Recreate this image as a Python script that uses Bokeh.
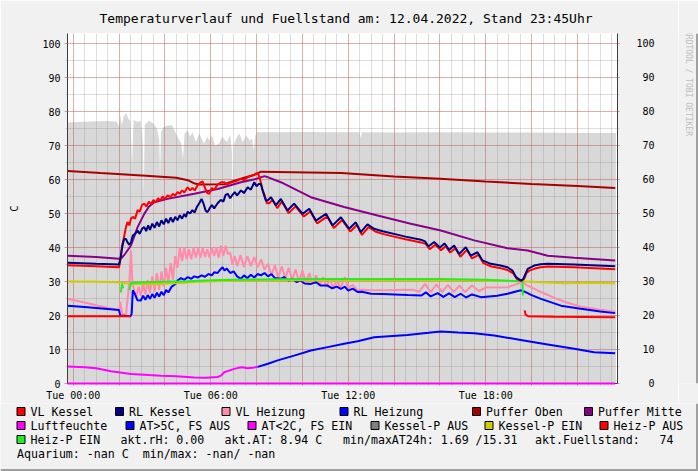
import math
from bokeh.plotting import figure
from bokeh.layouts import column, row
from bokeh.models import Range1d, LinearAxis, FixedTicker, Grid
from bokeh.core.properties import value
from bokeh.embed import file_html
from bokeh.resources import INLINE

NaN = float("nan")

TITLE = "Temperaturverlauf und Fuellstand am: 12.04.2022, Stand 23:45Uhr"
Y_LABEL = "C"
WATERMARK = "RRDTOOL / TOBI OETIKER"
X_LABEL_TICKS = [0, 6, 12, 18]
X_LABELS = ["Tue 00:00", "Tue 06:00", "Tue 12:00", "Tue 18:00"]
Y_TICKS = [0, 10, 20, 30, 40, 50, 60, 70, 80, 90, 100]

# ---- data (hours since 00:00, values) ----
fuell_t = [-0.25, 0.5, 1.0, 1.5, 1.9, 2.0, 2.05, 2.12, 2.2, 2.3, 2.4, 2.5, 2.57, 2.63, 2.8, 2.95, 3.04, 3.08, 3.12,
           3.3, 3.5, 3.65, 3.75, 3.79, 3.83, 3.95, 4.1, 4.3, 4.45, 4.6, 4.72, 4.79, 4.86, 5.0, 5.1, 5.2, 5.35,
           5.5, 5.7, 5.85, 5.95, 6.05, 6.2, 6.35, 6.5, 6.7, 6.85, 6.93, 6.96, 7.0, 7.1, 7.25, 7.4, 7.55, 7.7,
           7.8, 7.88, 7.95, 8.0, 9.0, 10.0, 11.0, 12.5, 12.55, 12.6, 14.0, 16.0, 18.0, 20.0, 22.0, 23.68]
fuell_v = [76.8, 77.0, 77.1, 77.2, 77.0, 75.5, 79.0, 76.0, 78.5, 79.5, 78.0, 77.0, 64.0, 77.5, 77.0, 77.2, 70.0, 55.3, 76.0,
           77.3, 76.5, 75.0, 72.0, 60.7, 74.0, 75.5, 75.8, 76.0, 74.0, 72.0, 70.5, 66.0, 73.5, 74.5, 72.5, 74.0, 71.0,
           73.5, 70.5, 72.5, 71.5, 73.0, 70.0, 70.5, 72.5, 71.0, 73.0, 68.0, 46.5, 70.0, 72.0, 73.5, 71.0, 73.0, 71.5,
           72.0, 68.5, 73.0, 73.9, 73.9, 74.0, 73.9, 73.9, 72.0, 73.9, 73.8, 73.9, 73.8, 73.8, 73.7, 73.7]

vl_kessel_t = [-0.25, 1.0, 2.0, 2.05, 2.12, 2.2, 2.3, 2.37, 2.45, 2.52, 2.6, 2.7, 2.81, 2.9, 3.0, 3.1, 3.2, 3.3, 3.4,
               3.5, 3.6, 3.7, 3.8, 3.9, 4.0, 4.12, 4.25, 4.35, 4.45, 4.55, 4.65, 4.75, 4.85, 4.99, 5.1, 5.2, 5.3,
               5.45, 5.57, 5.65, 5.75, 5.85, 5.93, 6.05, 6.15, 6.3, 6.45, 6.59, 6.7, 6.85, 7.0, 7.17, 7.3, 7.45,
               7.61, 7.75, 7.9, 8.0, 8.08, 8.15, 8.25, 8.33, 8.45, 8.55, 8.7, 8.9, 9.1, 9.4, 9.7, 10.06, 10.35,
               10.64, 11.08, 11.37, 11.73, 12.09, 12.38, 12.6, 12.89, 13.18, 13.5, 14.0, 14.5, 15.17, 15.4, 15.55,
               15.8, 16.05, 16.25, 16.45, 16.67, 16.89, 17.18, 17.4, 17.69, 17.9, 18.25, 18.6, 18.95, 19.2, 19.35,
               19.55, 19.68, 19.78, 19.9, 20.15, 20.4, 20.7, 21.86, 23.65]
vl_kessel_v = [34.8, 34.5, 34.2, 36.0, 40.0, 42.5, 46.0, 47.5, 46.5, 48.5, 49.0, 48.5, 51.0, 50.5, 52.5, 52.9, 52.0, 53.5, 52.8,
               54.0, 53.2, 54.5, 53.8, 55.0, 54.3, 55.3, 54.8, 55.8, 55.2, 56.3, 55.8, 56.8, 56.2, 57.7, 56.8, 57.5, 56.8,
               58.5, 59.2, 59.4, 57.5, 56.0, 55.8, 57.5, 57.0, 58.5, 59.2, 59.2, 58.5, 59.0, 59.3, 59.7, 60.2, 59.8,
               60.7, 61.0, 61.3, 61.9, 61.5, 60.2, 57.0, 55.8, 53.0, 53.0, 54.0, 51.6, 53.5, 50.1, 52.1, 49.1, 50.6,
               47.1, 49.1, 45.7, 48.1, 44.7, 46.6, 43.7, 46.0, 44.7, 44.0, 43.2, 42.4, 41.5, 41.0, 39.5,
               40.8, 39.2, 40.4, 38.5, 39.8, 37.3, 39.3, 36.8, 37.8, 35.4, 34.4, 34.0, 33.4, 32.4, 30.8,
               30.2, 30.8, 32.5, 33.2, 33.8, 34.2, 34.4, 34.2, 33.6]

rl_kessel_t = [-0.25, 1.0, 2.0, 2.08, 2.15, 2.22, 2.3, 2.37, 2.45, 2.52, 2.6, 2.7, 2.81, 2.9, 3.0, 3.1, 3.18, 3.27, 3.35,
               3.45, 3.55, 3.65, 3.75, 3.85, 3.95, 4.05, 4.15, 4.25, 4.35, 4.45, 4.55, 4.65, 4.75, 4.84, 4.92, 4.99,
               5.1, 5.2, 5.3, 5.4, 5.5, 5.6, 5.68, 5.78, 5.86, 5.95, 6.05, 6.15, 6.3, 6.44, 6.55, 6.65, 6.74, 6.85,
               6.95, 7.05, 7.15, 7.32, 7.45, 7.61, 7.75, 7.9, 8.0, 8.1, 8.19, 8.3, 8.41, 8.48, 8.63, 8.84, 9.06,
               9.35, 9.64, 10.01, 10.3, 10.59, 11.03, 11.32, 11.68, 12.04, 12.33, 12.55, 12.84, 13.13, 13.5, 14.0,
               14.5, 15.17, 15.35, 15.5, 15.75, 16.0, 16.2, 16.4, 16.62, 16.84, 17.13, 17.35, 17.64, 17.86, 18.22,
               18.6, 18.95, 19.17, 19.32, 19.53, 19.63, 19.72, 19.83, 20.11, 20.4, 20.7, 21.86, 23.65]
rl_kessel_v = [35.5, 35.2, 35.0, 37.5, 40.6, 42.5, 42.5, 41.5, 40.8, 41.5, 43.5, 44.0, 45.0, 44.0, 45.5, 46.0, 44.8, 46.5, 45.2,
               47.0, 45.8, 47.5, 46.2, 48.0, 46.8, 48.5, 47.2, 48.8, 47.5, 49.0, 48.0, 49.5, 48.5, 49.8, 49.0, 50.5,
               50.0, 51.0, 50.3, 52.0, 53.0, 54.3, 53.0, 50.8, 50.4, 51.5, 52.5, 51.5, 53.0, 54.0, 53.5, 55.5, 55.8, 54.5,
               55.5, 56.3, 55.3, 56.8, 56.0, 57.7, 57.0, 59.2, 58.0, 58.7, 58.7, 56.0, 53.8, 53.8, 54.8, 52.4, 54.3,
               50.9, 52.9, 49.9, 51.4, 47.9, 49.9, 46.5, 48.9, 45.5, 47.4, 44.5, 46.8, 45.5, 44.8, 44.0,
               43.2, 42.3, 41.8, 40.3, 41.6, 40.0, 41.2, 39.3, 40.6, 38.1, 40.1, 37.6, 38.6, 36.2, 35.2,
               34.8, 34.2, 33.2, 31.3, 30.3, 30.6, 32.0, 33.7, 34.7, 35.1, 35.2, 35.0, 34.5]

vl_heizung_t = [-0.25, 0.5, 1.0, 1.5, 1.95, 2.0, 2.05, 2.1, 2.15, 2.3, 2.45, 2.52, 2.58, 2.66, 2.75, 2.85, 2.95, 3.05,
                3.15, 3.25, 3.35, 3.45, 3.55, 3.65, 3.75, 3.85, 3.95, 4.05, 4.15, 4.25, 4.35, 4.45, 4.55, 4.65,
                4.75, 4.85, 4.95, 5.05, 5.15, 5.25, 5.35, 5.45, 5.55, 5.65, 5.75, 5.85, 5.95, 6.05, 6.15, 6.25,
                6.35, 6.45, 6.55, 6.65, 6.75, 6.85, 6.95, 7.05, 7.15, 7.3, 7.45, 7.6, 7.75, 7.9, 8.05, 8.2, 8.35,
                8.5, 8.65, 8.8, 8.95, 9.1, 9.25, 9.4, 9.55, 9.7, 9.85, 10.0, 10.15, 10.3, 10.45, 10.6, 10.75, 10.9,
                11.05, 11.2, 11.35, 11.5, 11.65, 11.85, 12.0, 12.2, 12.4, 12.6, 13.0, 14.0, 14.8, 15.1, 15.35,
                15.6, 15.85, 16.1, 16.35, 16.6, 16.85, 17.1, 17.4, 17.7, 18.0, 18.95, 19.39, 19.6, 19.75, 20.0,
                20.41, 21.0, 21.5, 22.15, 23.0, 23.65]
vl_heizung_v = [24.9, 23.8, 23.0, 22.3, 21.6, 21.3, 24.0, 22.0, 20.5, 20.0, 30.0, 39.1, 30.0, 27.4, 25.5, 28.5, 25.8, 29.5,
                26.2, 30.5, 26.5, 31.5, 27.0, 32.5, 27.5, 33.0, 28.5, 34.0, 29.5, 35.5, 30.5, 37.5, 34.0, 40.0,
                36.0, 40.0, 36.5, 39.5, 36.5, 40.0, 37.0, 39.8, 37.0, 40.0, 37.2, 39.5, 37.0, 40.0, 37.5, 40.0,
                37.0, 40.5, 37.5, 40.5, 38.0, 38.5, 35.0, 37.5, 34.5, 37.8, 34.3, 37.5, 34.5, 37.2, 34.2, 36.5, 33.5,
                35.2, 31.8, 34.8, 31.2, 34.5, 30.8, 34.0, 30.5, 33.5, 30.0, 33.2, 29.8, 32.5, 29.3, 31.8, 28.8, 31.2,
                28.5, 30.8, 28.0, 30.5, 27.8, 31.3, 28.0, 29.0, 27.4, 27.6, 27.4, 27.5, 27.6, 27.0, 29.3,
                26.9, 29.2, 26.9, 29.0, 26.9, 28.8, 26.9, 28.8, 27.2, 28.2, 28.3, 29.3, 30.0, 29.0, 28.3,
                26.9, 25.2, 23.9, 22.6, 21.7, 21.1]

rl_heizung_t = [-0.25, 0.5, 1.0, 1.5, 2.0, 2.05, 2.5, 2.55, 2.6, 2.68, 2.8, 2.95, 3.05, 3.15, 3.25, 3.35, 3.45, 3.55,
                3.65, 3.75, 3.85, 3.95, 4.05, 4.15, 4.3, 4.45, 4.55, 4.7, 4.85, 5.0, 5.15, 5.28, 5.45, 5.6, 5.75,
                5.9, 6.05, 6.15, 6.3, 6.44, 6.52, 6.6, 6.7, 6.85, 7.0, 7.15, 7.32, 7.45, 7.6, 7.75, 7.9, 8.05, 8.19,
                8.35, 8.5, 8.65, 8.8, 9.06, 9.2, 9.4, 9.55, 9.75, 9.9, 10.1, 10.37, 10.6, 10.8, 11.1, 11.3, 11.5,
                11.68, 11.85, 12.0, 12.2, 12.41, 12.6, 12.99, 13.5, 14.0, 14.6, 15.2, 15.39, 15.6, 15.9, 16.15, 16.4,
                16.65, 16.9, 17.15, 17.4, 17.79, 18.5, 18.95, 19.53, 19.7, 20.0, 20.41, 21.28, 22.15, 23.0, 23.65]
rl_heizung_v = [22.9, 22.5, 22.2, 21.9, 21.6, 20.0, 19.8, 20.5, 27.4, 26.5, 24.5, 24.4, 25.8, 24.6, 26.0, 24.9, 26.3, 25.2,
                26.7, 25.6, 27.0, 26.0, 27.5, 26.8, 28.5, 29.2, 30.3, 31.0, 30.5, 31.3, 30.8, 31.5, 31.2, 31.8, 31.4,
                32.2, 31.8, 32.7, 32.5, 33.7, 34.2, 33.2, 33.8, 32.5, 33.0, 31.5, 30.8, 31.8, 31.0, 32.0, 31.2, 32.2, 31.8,
                32.5, 31.5, 32.2, 31.0, 30.8, 31.3, 30.2, 30.8, 29.8, 30.3, 29.4, 29.3, 29.8, 28.8, 28.8, 28.0, 28.5,
                27.8, 28.5, 27.3, 27.9, 26.9, 27.0, 26.4, 26.3, 26.2, 26.0, 25.9, 26.8, 25.6, 26.6, 25.5, 26.5,
                25.4, 26.4, 25.3, 26.2, 25.4, 25.8, 26.4, 27.4, 27.0, 26.0, 24.9, 22.9, 22.0, 21.2, 20.7]

puffer_oben_t = [-0.25, 1.2, 3.0, 4.5, 5.0, 5.3, 5.5, 6.6, 7.0, 7.5, 7.9, 8.2, 11.7, 14.0, 16.0, 18.0, 20.0, 22.0, 23.65]
puffer_oben_v = [62.5, 61.9, 61.2, 60.5, 59.8, 58.8, 58.5, 58.6, 59.6, 60.6, 61.4, 62.3, 61.9, 60.9, 60.2, 59.4, 58.7, 58.1, 57.5]

puffer_mitte_t = [-0.25, 1.0, 2.0, 2.08, 2.25, 2.52, 2.81, 3.1, 3.3, 3.53, 4.12, 5.28, 6.3, 7.32, 8.0, 8.35, 8.48, 9.06,
                  10.37, 11.82, 13.28, 14.73, 16.04, 17.5, 18.95, 19.83, 20.7, 21.86, 23.65]
puffer_mitte_v = [37.6, 37.2, 36.7, 36.7, 38.0, 40.6, 46.0, 49.9, 52.0, 53.3, 54.3, 55.8, 57.2, 59.2, 60.2, 61.0, 60.7, 59.2,
                  54.8, 51.9, 49.4, 47.0, 45.0, 42.1, 39.8, 39.1, 37.6, 37.0, 36.2]

luftfeuchte_t = [-0.25, 23.65]
luftfeuchte_v = [0.0, 0.0]

at_kalt_t = [-0.25, 0.5, 1.0, 1.65, 2.52, 3.3, 3.83, 4.5, 5.28, 5.8, 6.3, 6.45, 6.59, 6.8, 7.03, 7.2, 7.39, 7.6, 7.8, 8.05]
at_kalt_v = [5.0, 4.8, 4.5, 3.6, 2.8, 2.5, 2.3, 2.1, 1.8, 1.7, 1.9, 2.3, 3.3, 3.8, 4.3, 4.6, 4.8, 4.5, 4.6, 4.9]
at_warm_t = [8.05, 8.5, 8.92, 9.64, 10.37, 11.1, 11.82, 12.41, 13.13, 14.59, 15.5, 16.04, 16.8, 17.5, 18.37, 19.53,
             20.7, 21.86, 22.73, 23.65]
at_warm_v = [4.9, 5.8, 6.8, 8.2, 9.7, 10.7, 11.7, 12.4, 13.6, 14.3, 14.9, 15.3, 15.0, 14.8, 14.1, 12.8,
             11.5, 10.2, 9.2, 8.9]

kessel_p_ein_t = [-0.25, 1.0, 2.0, 2.5, 3.5, 4.5, 5.5, 7.0, 10.0, 14.0, 17.0, 19.5, 20.5, 21.5, 22.5, 23.65]
kessel_p_ein_v = [30.0, 29.9, 29.8, 29.3, 29.3, 29.5, 29.9, 30.2, 30.4, 30.4, 30.3, 30.1, 29.8, 29.5, 29.6, 29.5]

heiz_p_aus_t = [-0.25, 1.0, 2.5, 2.52, 19.70, 19.74, 19.85, 21.0, 23.65]
heiz_p_aus_v = [19.8, 19.8, 19.8, NaN, 21.5, 20.2, 19.8, 19.6, 19.5]

heiz_p_ein_t = [2.08, 2.13, 2.18, 2.2, 2.45, 2.52, 3.0, 4.0, 5.0, 6.0, 7.0, 8.0, 10.0, 12.0, 14.0, 16.0, 18.0, 19.0, 19.6, 19.62]
heiz_p_ein_v = [26.8, 29.3, 28.0, NaN, 27.5, 29.6, 29.7, 29.9, 30.1, 30.4, 30.5, 30.6, 30.7, 30.7, 30.7, 30.7, 30.5, 30.2, 30.1, 25.9]

# legend content
legend_row1 = ["VL Kessel", "RL Kessel", "VL Heizung", "RL Heizung", "Puffer Oben", "Puffer Mitte"]
legend_row1_col = ["#FF0000", "#000080", "#FF8AAA", "#0000FF", "#A80000", "#880088"]
legend_row2 = ["Luftfeuchte", "AT>5C, FS AUS", "AT<2C, FS EIN", "Kessel-P AUS", "Kessel-P EIN", "Heiz-P AUS"]
legend_row2_col = ["#FF00FF", "#0000FF", "#FF00FF", "#808080", "#CCCC00", "#FF0000"]
legend_row3 = ["Heiz-P EIN"]
legend_row3_col = ["#22EE22"]
legend_row3_texts = ["akt.rH: 0.00", "akt.AT: 8.94 C", "min/maxAT24h: 1.69 /15.31", "akt.Fuellstand:", "74"]
legend_row4_texts = ["Aquarium: -nan C", "min/max: -nan/ -nan"]

MONO = "DejaVu Sans Mono"
NB = "\u00a0"
BG = "#F1F1F1"
SHADE = "#A0A0A0"

# ================= main chart =================
P_W, P_H = 678, 403
p = figure(frame_width=550, frame_height=350, output_backend="svg", toolbar_location=None,
           x_range=Range1d(-0.25, 23.75), y_range=Range1d(0, 350 / 3.4),
           min_border_left=67, min_border_right=P_W - 67 - 550, min_border_top=33, min_border_bottom=P_H - 33 - 350,
           background_fill_color="white", border_fill_color=BG)
p.outline_line_color = None
p.grid.visible = False

p.title.text = TITLE
p.title.align = "left"
p.title.offset = 32
p.title.standoff = 15
p.title.text_font = MONO
p.title.text_font_size = "13px"
p.title.text_font_style = "normal"
p.title.text_color = "black"

AXIS_COL = "#3C3C3C"
GRID_MAJ = "#DE5050"
GRID_MIN = "#8F8F8F"

xt_major = list(range(0, 24, 2))
xt_minor = [h * 0.5 for h in range(0, 48)]
yt_minor = [v for v in range(0, 101, 5)]


def style_axis(ax, tick_out, standoff):
    ax.major_tick_out = tick_out
    ax.major_tick_in = 0
    ax.minor_tick_out = 2
    ax.minor_tick_in = 0
    ax.major_tick_line_color = GRID_MAJ
    ax.major_tick_line_alpha = 0.5
    ax.minor_tick_line_color = GRID_MIN
    ax.minor_tick_line_alpha = 0.4
    ax.major_label_standoff = standoff
    ax.axis_line_color = AXIS_COL
    ax.major_label_text_font = MONO
    ax.major_label_text_font_size = "10px"
    ax.major_label_text_color = "black"


xax = p.xaxis[0]
xax.ticker = FixedTicker(ticks=xt_major, minor_ticks=xt_minor)
xax.major_label_overrides = {t: (X_LABELS[X_LABEL_TICKS.index(t)] if t in X_LABEL_TICKS else "") for t in xt_major}
style_axis(xax, 2, 4)

yax = p.yaxis[0]
yax.ticker = FixedTicker(ticks=Y_TICKS, minor_ticks=yt_minor)
style_axis(yax, 3, 4)
yax.axis_label = Y_LABEL
yax.axis_label_standoff = 19
yax.axis_label_text_font = MONO
yax.axis_label_text_font_size = "10.5px"
yax.axis_label_text_font_style = "normal"
yax.axis_label_text_color = "black"

rax = LinearAxis(ticker=FixedTicker(ticks=Y_TICKS, minor_ticks=yt_minor))
rax.major_label_overrides = {v: str(v).rjust(3, NB) for v in Y_TICKS}
style_axis(rax, 2, 17)
p.add_layout(rax, "right")

p.add_layout(Grid(dimension=0, ticker=FixedTicker(ticks=xt_major, minor_ticks=xt_minor),
                  grid_line_color=GRID_MAJ, grid_line_alpha=0.35,
                  minor_grid_line_color=GRID_MIN, minor_grid_line_alpha=0.3, level="underlay"))
p.add_layout(Grid(dimension=1, ticker=FixedTicker(ticks=Y_TICKS, minor_ticks=yt_minor),
                  grid_line_color=GRID_MAJ, grid_line_alpha=0.35,
                  minor_grid_line_color=GRID_MIN, minor_grid_line_alpha=0.3, level="underlay"))

p.varea(x=fuell_t, y1=0, y2=fuell_v, fill_color="#D8D8D8", level="image")

LW = 2
p.line(puffer_oben_t, puffer_oben_v, line_color="#A80000", line_width=LW)
p.line(puffer_mitte_t, puffer_mitte_v, line_color="#880088", line_width=LW)
p.line(vl_heizung_t, vl_heizung_v, line_color="#FF8AAA", line_width=LW)
p.line(rl_heizung_t, rl_heizung_v, line_color="#0000FF", line_width=LW)
p.line(kessel_p_ein_t, kessel_p_ein_v, line_color="#CCCC00", line_width=LW)
p.line(heiz_p_ein_t, heiz_p_ein_v, line_color="#22EE22", line_width=LW)
p.line(heiz_p_aus_t, heiz_p_aus_v, line_color="#FF0000", line_width=LW)
p.line(at_kalt_t, at_kalt_v, line_color="#FF00FF", line_width=LW)
p.line(at_warm_t, at_warm_v, line_color="#0000FF", line_width=LW)
p.line(vl_kessel_t, vl_kessel_v, line_color="#FF0000", line_width=LW)
p.line(rl_kessel_t, rl_kessel_v, line_color="#000080", line_width=LW)
p.line(luftfeuchte_t, luftfeuchte_v, line_color="#FF00FF", line_width=LW, level="overlay")


def blank_fig(w, h, x0, y_top):
    f = figure(width=w, height=h, output_backend="svg", toolbar_location=None,
               x_range=Range1d(x0, x0 + w), y_range=Range1d(y_top + h, y_top),
               x_axis_location=None, y_axis_location=None, min_border=0,
               background_fill_color=BG, border_fill_color=BG)
    f.outline_line_color = None
    f.grid.visible = False
    return f


# ================= watermark strip (right of chart) =================
wm = blank_fig(698 - P_W, P_H, P_W, 0)
wm.text(x=[688], y=[57], text=[WATERMARK], angle=-math.pi / 2, text_align="center", text_baseline="middle",
        text_font=value(MONO), text_font_size="8px", text_color="#BDBDBD")
wm.quad(left=[695.5], right=[698], top=[0], bottom=[P_H], fill_color=SHADE, line_color=None)

# ================= legend area (below chart) =================
L_H = 471 - P_H
lg = blank_fig(698, L_H, 0, P_H)
FS = "11.6px"
CW = 0.602 * 11.6
ROW_Y = [411, 425, 439, 453]
row1_x = [16.5, 115, 221.5, 339.5, 472, 584]
row2_x = [16.5, 125.5, 247.5, 370.5, 484.5, 599.5]
row3_x = [16.5]

box_x, box_y, box_c, txt_x, txt_y, txt_s = [], [], [], [], [], []
for names, cols, xs, ry in ((legend_row1, legend_row1_col, row1_x, ROW_Y[0]),
                            (legend_row2, legend_row2_col, row2_x, ROW_Y[1]),
                            (legend_row3, legend_row3_col, row3_x, ROW_Y[2])):
    for name, col, bx in zip(names, cols, xs):
        box_x.append(bx)
        box_y.append(ry)
        box_c.append(col)
        txt_x.append(bx + 13.5)
        txt_y.append(ry)
        txt_s.append(name)

row3_text_x = [120, 224, 342.5, 534.5, 673]
for s, tx in zip(legend_row3_texts[:4], row3_text_x[:4]):
    txt_x.append(tx)
    txt_y.append(ROW_Y[2])
    txt_s.append(s)
row4_text_x = [16.5, 16.5 + (len(legend_row4_texts[0]) + 2) * CW]
for s, tx in zip(legend_row4_texts, row4_text_x):
    txt_x.append(tx)
    txt_y.append(ROW_Y[3])
    txt_s.append(s)

lg.quad(left=box_x, right=[b + 8 for b in box_x], top=[y - 4 for y in box_y], bottom=[y + 4 for y in box_y],
        fill_color=box_c, line_color="black", line_width=1)
lg.text(x=txt_x, y=txt_y, text=txt_s, text_align="left", text_baseline="middle",
        text_font=value(MONO), text_font_size=FS, text_color="black")
lg.text(x=[row3_text_x[4]], y=[ROW_Y[2]], text=[legend_row3_texts[4]], text_align="right", text_baseline="middle",
        text_font=value(MONO), text_font_size=FS, text_color="black")
lg.quad(left=[695.5], right=[698], top=[P_H], bottom=[471], fill_color=SHADE, line_color=None)
lg.quad(left=[0], right=[698], top=[468.5], bottom=[471], fill_color=SHADE, line_color=None)

layout = column(row(p, wm, spacing=0), lg, spacing=0)
open("out.html", "w").write(file_html(layout, INLINE))
